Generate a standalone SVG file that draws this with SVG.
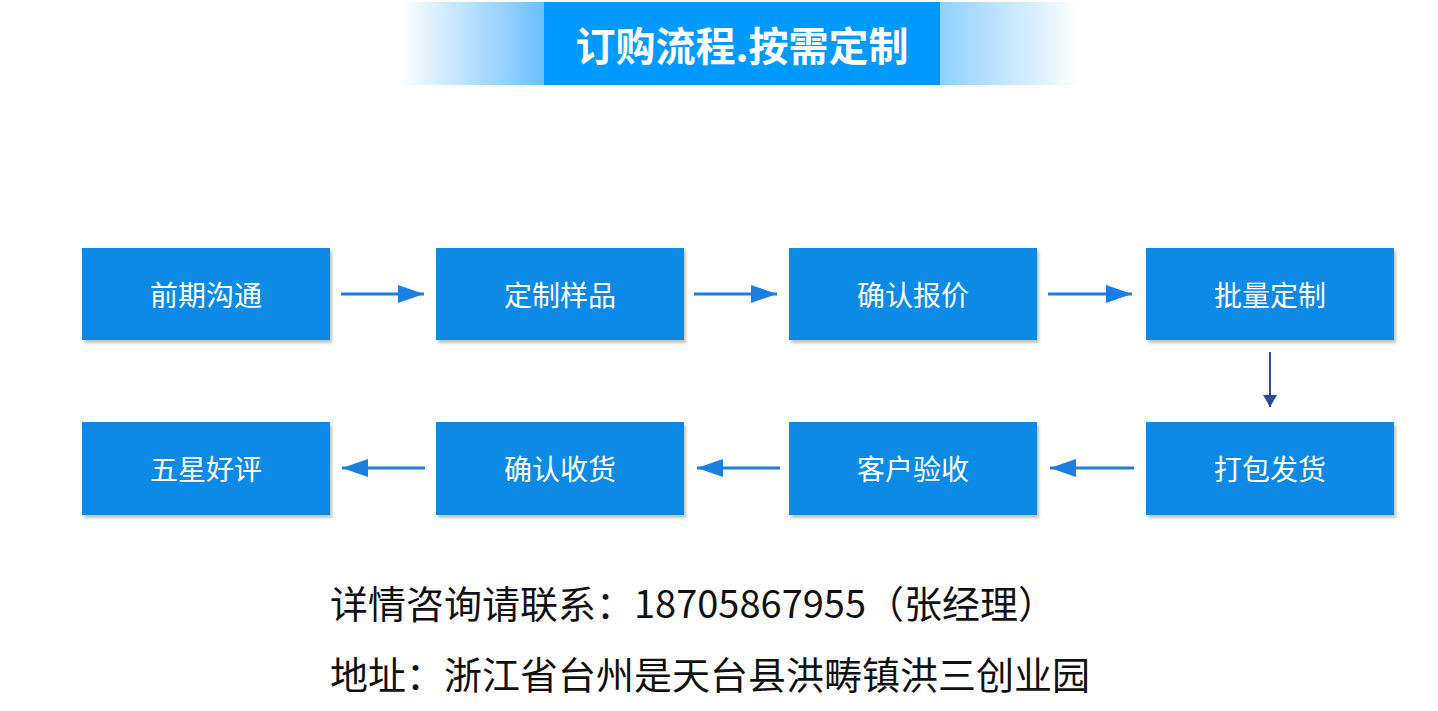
<svg xmlns="http://www.w3.org/2000/svg" width="1438" height="711" viewBox="0 0 1438 711">
<style>
.box{fill:#0a8ae6;filter:url(#sh)}
.lbl{font-family:"Noto Sans CJK SC",sans-serif;font-size:28px;fill:#fff;text-anchor:middle;dominant-baseline:central}
.ar{stroke:#1a7fe0;stroke-width:3;fill:none;marker-end:url(#ah)}
.info{font-family:"Noto Sans CJK SC",sans-serif;font-size:38px;fill:#111}
</style>
<defs>
<linearGradient id="gl" x1="0" x2="1"><stop offset="0" stop-color="#fff"/><stop offset="1" stop-color="#6cc0ff"/></linearGradient>
<linearGradient id="gr" x1="0" x2="1"><stop offset="0" stop-color="#8fd0ff"/><stop offset="1" stop-color="#fff"/></linearGradient>
<filter id="sh" x="-5%" y="-5%" width="115%" height="120%"><feDropShadow dx="2" dy="3" stdDeviation="1.5" flood-color="#998" flood-opacity="0.6"/></filter>
<marker id="ah" markerWidth="8" markerHeight="8" refX="7" refY="4" orient="auto" markerUnits="userSpaceOnUse" viewBox="0 0 8 8"><path d="M0,0L8,4L0,8z" fill="#1a7fe0"/></marker>
<marker id="ah2" markerWidth="12" markerHeight="14" refX="12" refY="7" orient="auto" markerUnits="userSpaceOnUse"><path d="M0,0L12,7L0,14z" fill="#2a4a9a"/></marker>
<marker id="ah3" markerWidth="26" markerHeight="18" refX="26" refY="9" orient="auto" markerUnits="userSpaceOnUse"><path d="M0,0L26,9L0,18z" fill="#1a7fe0"/></marker>
</defs>
<rect width="1438" height="711" fill="#fff"/>
<g id="header">
<rect x="400" y="2" width="144" height="83" fill="url(#gl)"/>
<rect x="940" y="2" width="140" height="83" fill="url(#gr)"/>
<rect x="544" y="2" width="396" height="83" fill="#0099ff"/>
<text x="742" y="44" font-family="Noto Sans CJK SC,sans-serif" font-size="40" font-weight="bold" fill="#fff" text-anchor="middle" dominant-baseline="central">订购流程.按需定制</text>
</g>
<g id="n1"><rect class="box" x="82" y="248" width="248" height="92"/><text class="lbl" x="206" y="294">前期沟通</text></g>
<g id="n2"><rect class="box" x="436" y="248" width="248" height="92"/><text class="lbl" x="560" y="294">定制样品</text></g>
<g id="n3"><rect class="box" x="789" y="248" width="248" height="92"/><text class="lbl" x="913" y="294">确认报价</text></g>
<g id="n4"><rect class="box" x="1146" y="248" width="248" height="92"/><text class="lbl" x="1270" y="294">批量定制</text></g>
<g id="n5"><rect class="box" x="1146" y="422" width="248" height="93"/><text class="lbl" x="1270" y="468">打包发货</text></g>
<g id="n6"><rect class="box" x="789" y="422" width="248" height="93"/><text class="lbl" x="913" y="468">客户验收</text></g>
<g id="n7"><rect class="box" x="436" y="422" width="248" height="93"/><text class="lbl" x="560" y="468">确认收货</text></g>
<g id="n8"><rect class="box" x="82" y="422" width="248" height="93"/><text class="lbl" x="206" y="468">五星好评</text></g>
<g id="connectors" stroke="#1a7fe0" stroke-width="3" fill="none">
<line x1="341" y1="294" x2="424" y2="294" marker-end="url(#ah3)"/>
<line x1="694" y1="294" x2="777" y2="294" marker-end="url(#ah3)"/>
<line x1="1048" y1="294" x2="1132" y2="294" marker-end="url(#ah3)"/>
<line x1="1270" y1="352" x2="1270" y2="407" stroke="#2a4a9a" stroke-width="2" marker-end="url(#ah2)"/>
<line x1="1134" y1="468" x2="1050" y2="468" marker-end="url(#ah3)"/>
<line x1="780" y1="468" x2="697" y2="468" marker-end="url(#ah3)"/>
<line x1="425" y1="468" x2="342" y2="468" marker-end="url(#ah3)"/>
</g>
<text class="info" x="330" y="618">详情咨询请联系：18705867955（张经理）</text>
<text class="info" x="330" y="689">地址：浙江省台州是天台县洪畴镇洪三创业园</text>
</svg>
